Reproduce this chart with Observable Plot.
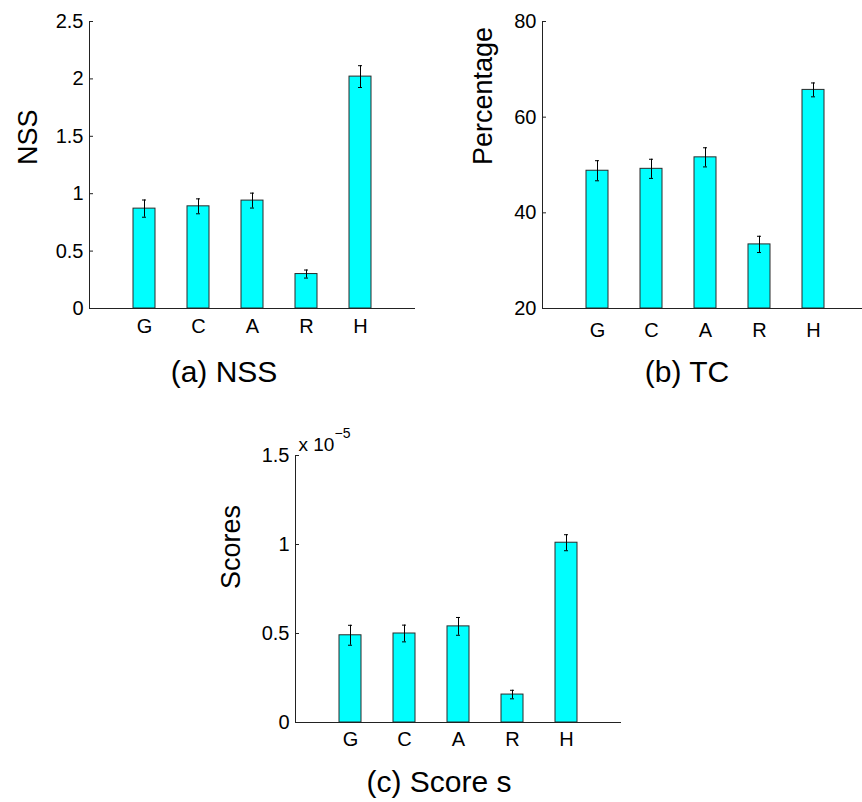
<!DOCTYPE html>
<html><head><meta charset="utf-8">
<script src="https://cdn.jsdelivr.net/npm/d3@7"></script>
<script src="https://cdn.jsdelivr.net/npm/@observablehq/plot@0.6"></script>
<style>
body{margin:0;background:#fff;}
#fig{position:relative;width:862px;height:802px;overflow:hidden;background:#fff;font-family:"Liberation Sans",Arial,sans-serif;}
.panel{position:absolute;}
.cap{position:absolute;font-size:30px;color:#000;white-space:nowrap;transform:translateX(-50%);line-height:1;}
</style></head><body><div id="fig"></div>
<script>
// categories
const methods = ["G", "C", "A", "R", "H"];
// (a) NSS
const nssMean = [0.87, 0.89, 0.94, 0.30, 2.02];
const nssErr  = [0.075, 0.065, 0.065, 0.035, 0.095];
const nssTicks = [0, 0.5, 1, 1.5, 2, 2.5];
// (b) TC (percentage)
const tcMean = [48.8, 49.2, 51.6, 33.4, 65.7];
const tcErr  = [2.1, 2.0, 2.0, 1.7, 1.45];
const tcTicks = [20, 40, 60, 80];
// (c) Score s, in units of 10^-5
const scoreMean = [0.49, 0.50, 0.54, 0.157, 1.01];
const scoreErr  = [0.056, 0.047, 0.05, 0.024, 0.045];
const scoreTicks = [0, 0.5, 1, 1.5];

const FONT = "'Liberation Sans', Arial, sans-serif";

function panel({means, errs, ticks, label, width, height, mt, mb, ml, mr, xPad, labelDx, extra = []}) {
  const data = methods.map((m, i) => ({m, v: means[i], e: errs[i]}));
  const y0 = ticks[0];
  return Plot.plot({
    width, height,
    marginTop: mt, marginBottom: mb, marginLeft: ml, marginRight: mr,
    style: {fontFamily: FONT, fontSize: "20px", background: "transparent", color: "#000", overflow: "visible"},
    x: {type: "band", domain: methods, paddingInner: 0.6, paddingOuter: 0.8, align: 0.5},
    y: {domain: [ticks[0], ticks[ticks.length - 1]]},
    marks: [
      Plot.barY(data, {x: "m", y1: y0, y2: "v", fill: "#00ffff", stroke: "#2a2a2a", strokeWidth: 1}),
      Plot.ruleX(data, {x: "m", y1: d => d.v - d.e, y2: d => d.v + d.e, stroke: "#000", strokeWidth: 1}),
      Plot.tickY(data, {x: "m", y: d => d.v - d.e, stroke: "#000", insetLeft: 9, insetRight: 9}),
      Plot.tickY(data, {x: "m", y: d => d.v + d.e, stroke: "#000", insetLeft: 9, insetRight: 9}),
      Plot.frame({anchor: "left", stroke: "#222"}),
      Plot.frame({anchor: "bottom", stroke: "#222"}),
      Plot.axisX({tickSize: 0, tickPadding: xPad, fontSize: 20, label: null}),
      Plot.axisY({ticks, tickSize: -4, tickPadding: 10, fontSize: 20, label: null, tickFormat: d => String(d), stroke: "#222"}),
      Plot.text([label], {frameAnchor: "left", rotate: -90, dx: labelDx, fontSize: 27, fill: "#000"}),
      ...extra
    ]
  });
}

const fig = document.getElementById("fig");
function place(el, left, top) {
  el.classList.add("panel");
  el.style.left = left + "px";
  el.style.top = top + "px";
  fig.appendChild(el);
}
function caption(text, cx, baseline) {
  const d = document.createElement("div");
  d.className = "cap";
  d.textContent = text;
  d.style.left = cx + "px";
  d.style.top = (baseline - 25.4) + "px";
  fig.appendChild(d);
}

// (a)
place(panel({means: nssMean, errs: nssErr, ticks: nssTicks, label: "NSS",
  width: 430, height: 340, mt: 21, mb: 32, ml: 89, mr: 16, xPad: 10, labelDx: -61}), 0, 0);
// (b)
place(panel({means: tcMean, errs: tcErr, ticks: tcTicks, label: "Percentage",
  width: 440, height: 340, mt: 21, mb: 32, ml: 112, mr: 3, xPad: 14, labelDx: -59}), 430, 0);
// (c)
place(panel({means: scoreMean, errs: scoreErr, ticks: scoreTicks, label: "Scores",
  width: 430, height: 340, mt: 45, mb: 28, ml: 95, mr: 10, xPad: 9, labelDx: -64,
  extra: [
    Plot.text(["x 10"], {frameAnchor: "top-left", textAnchor: "start", dx: 3, dy: -18, fontSize: 19, fill: "#000"}),
    Plot.text(["\u22125"], {frameAnchor: "top-left", textAnchor: "start", dx: 39, dy: -27, fontSize: 14, fill: "#000"})
  ]}), 200, 410);

caption("(a) NSS", 224, 382);
caption("(b) TC", 687, 382);
caption("(c) Score s", 439, 792);
</script>
</body></html>
